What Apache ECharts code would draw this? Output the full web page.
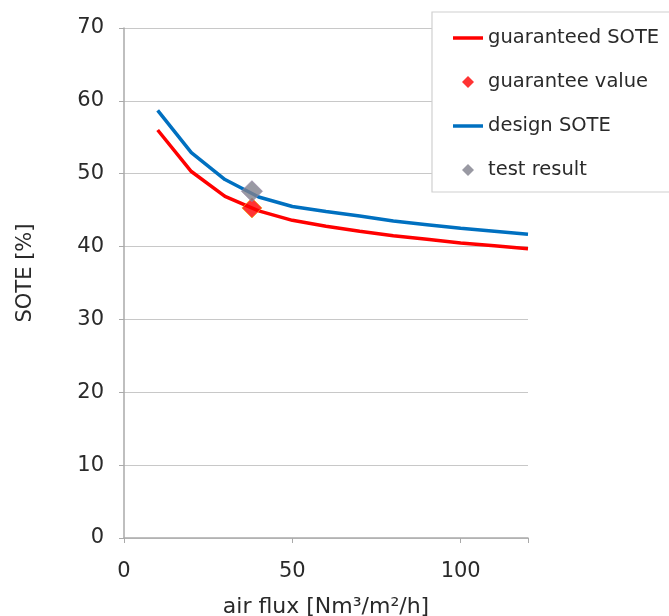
<!DOCTYPE html>
<html><head><meta charset="utf-8">
<script src="https://cdn.jsdelivr.net/npm/echarts@6/dist/echarts.min.js"></script>
<style>html,body{margin:0;padding:0;background:#fff}#c{width:669px;height:616px}</style>
</head><body><div id="c"></div>
<script>
const airFlux = [10,20,30,40,50,60,70,80,90,100,110,120];
const guaranteedSOTE = [56.0,50.3,46.9,44.9,43.6,42.8,42.1,41.5,41.0,40.5,40.1,39.7];
const designSOTE = [58.7,52.9,49.2,46.8,45.5,44.8,44.2,43.5,43.0,42.5,42.1,41.7];
const guaranteeValue = [[38,45.3]];
const testResult = [[38,47.6]];
const FONT = 'DejaVu Sans';
const TXT = '#2a2a2a';
const LINE_ICON = 'path://M0,0L30,0L30,3.5L0,3.5Z';
const DIAMOND_ICON = 'path://M5,0L10,5L5,10L0,5Z';
const chart = echarts.init(document.getElementById('c'));
chart.setOption({
  animation:false,
  backgroundColor:'#fff',
  grid:{left:124,right:141,top:28,bottom:78,outerBoundsMode:'none',containLabel:false},
  xAxis:{type:'value',min:0,max:120,interval:50,
    name:'air flux [Nm³/m²/h]',nameLocation:'middle',nameGap:58,
    nameTextStyle:{fontFamily:FONT,fontSize:22,color:TXT},
    axisLine:{lineStyle:{color:'#aaa',width:1.5}},
    axisTick:{show:true,length:5,lineStyle:{color:'#aaa'}},
    axisLabel:{fontFamily:FONT,fontSize:21,color:TXT,margin:23,
      formatter:v=> (v%50===0 ? String(v) : '')},
    splitLine:{show:false}},
  yAxis:{type:'value',min:0,max:70,interval:10,
    name:'SOTE [%]',nameLocation:'middle',nameGap:88,
    nameTextStyle:{fontFamily:FONT,fontSize:21,color:TXT,padding:[0,0,0,20]},
    axisLine:{show:true,lineStyle:{color:'#aaa',width:1.5}},
    axisTick:{show:true,length:5,lineStyle:{color:'#aaa'}},
    axisLabel:{fontFamily:FONT,fontSize:21,color:TXT,margin:20},
    splitLine:{lineStyle:{color:'#c8c8c8',width:1.2}}},
  legend:{orient:'vertical',left:432,top:12,
    padding:[16,20,12,21],itemGap:24,itemWidth:30,itemHeight:12,
    backgroundColor:'#fff',borderColor:'#d0d0d0',borderWidth:1.2,
    textStyle:{fontFamily:FONT,fontSize:19.5,color:TXT,lineHeight:20},
    data:[
      {name:'guaranteed SOTE',icon:LINE_ICON},
      {name:'guarantee value',icon:DIAMOND_ICON,itemStyle:{borderWidth:0}},
      {name:'design SOTE',icon:LINE_ICON},
      {name:'test result',icon:DIAMOND_ICON,itemStyle:{borderWidth:0}}
    ]},
  series:[
    {name:'guaranteed SOTE',type:'line',data:airFlux.map((x,i)=>[x,guaranteedSOTE[i]]),
      symbol:'none',lineStyle:{color:'#ff0000',width:3.5},itemStyle:{color:'#ff0000'},z:2},
    {name:'design SOTE',type:'line',data:airFlux.map((x,i)=>[x,designSOTE[i]]),
      symbol:'none',lineStyle:{color:'#0070c0',width:3.5},itemStyle:{color:'#0070c0'},z:2},
    {name:'guarantee value',type:'scatter',data:guaranteeValue,symbol:'diamond',symbolSize:20,
      itemStyle:{color:'#ff0000',borderColor:'#f0a020',borderWidth:1},z:3},
    {name:'test result',type:'scatter',data:testResult,symbol:'diamond',symbolSize:21,
      itemStyle:{color:'#80808c',borderColor:'#9a8aa8',borderWidth:1},z:4}
  ]
});
</script></body></html>
